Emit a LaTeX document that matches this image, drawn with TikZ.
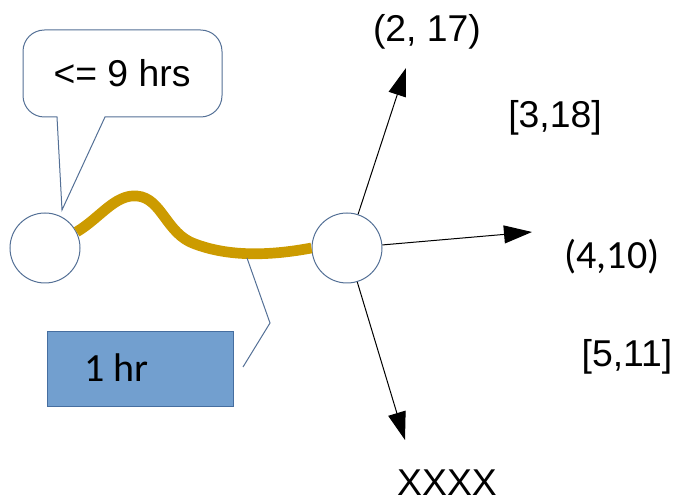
\documentclass[tikz,border=0pt]{standalone}
\usepackage{fontspec}
\setmainfont{Liberation Sans}
\newfontfamily\carlito{Carlito}
\usetikzlibrary{arrows.meta}
\definecolor{ringcol}{RGB}{84,112,150}
\definecolor{trailcol}{RGB}{204,155,0}
\definecolor{boxfill}{RGB}{114,159,207}
\definecolor{boxline}{RGB}{70,110,160}
\tikzset{
  stop/.style={circle, draw=ringcol, line width=0.75pt, fill=white, minimum size=52.5pt, inner sep=0pt},
  lbl/.style={inner sep=0pt, font=\fontsize{28}{32}\selectfont},
  clbl/.style={inner sep=0pt, font=\carlito\fontsize{30}{34}\selectfont},
  thin line/.style={draw=ringcol, line width=0.75pt},
  leg/.style={-{Triangle[length=21pt,width=13.5pt]}, line width=0.75pt},
}
\begin{document}
\begin{tikzpicture}[x=0.75pt,y=0.75pt,yscale=-1,xscale=1]
\useasboundingbox (0,0) rectangle (679,502);
% stops
\node[stop] (start) at (45,248) {};
\node[stop] (hub) at (347,248) {};
% travelled trail
\draw[trailcol, line width=8pt] (start.27) .. controls (100,218) and (115,194) .. (137,196) .. controls (162,198) and (166,234) .. (195,244) .. controls (222,254) and (258,258) .. (hub.west);
% speech bubble
\coordinate (tip) at (62,210);
\draw[thin line, fill=white] (tip) -- (57,117) [rounded corners=16] -- (23,117) -- (23,30) -- (222,30) -- (222,117) [sharp corners] -- (105,117) -- cycle;
\node[lbl] (limit) at (122,73) {<= 9 hrs};
% duration box
\coordinate (pin) at (247,258);
\coordinate (bend) at (270,323);
\coordinate (foot) at (243,367);
\draw[thin line] (pin) -- (bend) -- (foot);
\node[draw=boxline, fill=boxfill, line width=0.75pt, minimum width=139.5pt, minimum height=56.25pt, inner sep=0pt] (dur) at (140,369.5) {};
\node[clbl, anchor=west] (durtext) at (84,368) {1 hr};
% outgoing legs
\coordinate (upend) at (406,68);
\coordinate (rightend) at (532,232);
\coordinate (downend) at (405,440);
\draw[leg] (hub) -- (upend);
\draw[leg] (hub) -- (rightend);
\draw[leg] (hub) -- (downend);
% labels
\node[lbl] (north) at (427,32) {(2, 17)};
\node[lbl] (ne) at (555,118) {[3,18]};
\node[clbl] (east) at (612,257) {(4,10)};
\node[lbl] (se) at (627,357) {[5,11]};
\node[lbl] (south) at (447,483) {XXXX};
\end{tikzpicture}
\end{document}
